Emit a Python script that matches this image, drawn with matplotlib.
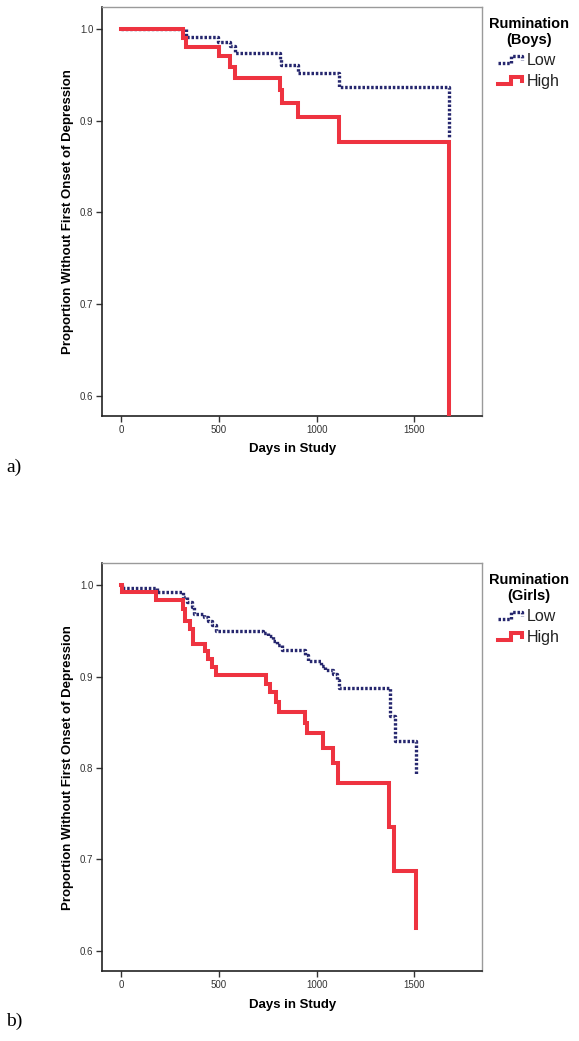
import matplotlib
matplotlib.use("Agg")
import matplotlib.pyplot as plt
from matplotlib.legend_handler import HandlerBase
from matplotlib.lines import Line2D

plt.rcParams['font.family'] = ['Liberation Sans', 'DejaVu Sans']

# Boys (panel a)
boys_low_days = [0, 331, 497, 558, 583, 813, 820, 906, 1116, 1678]
boys_low_surv = [1.0, 0.991, 0.986, 0.981, 0.974, 0.967, 0.961, 0.952, 0.937, 0.882]
boys_high_days = [0, 316, 332, 501, 558, 583, 813, 823, 906, 1116, 1678]
boys_high_surv = [1.0, 0.990, 0.980, 0.970, 0.958, 0.947, 0.933, 0.919, 0.904, 0.877, 0.0]

# Girls (panel b)
girls_low_days = [0, 3, 182, 315, 336, 361, 373, 424, 446, 467, 486, 727, 753, 779,
                  796, 822, 941, 958, 1021, 1043, 1085, 1103, 1116, 1375, 1401, 1510]
girls_low_surv = [1.0, 0.997, 0.992, 0.9865, 0.981, 0.976, 0.968, 0.965, 0.961, 0.956,
                  0.950, 0.948, 0.944, 0.939, 0.934, 0.929, 0.923, 0.9175, 0.911, 0.907,
                  0.903, 0.896, 0.887, 0.857, 0.830, 0.792]
girls_high_days = [0, 3, 179, 315, 327, 353, 366, 429, 446, 463, 486, 740, 762, 792,
                   809, 941, 949, 1031, 1085, 1111, 1368, 1397, 1509]
girls_high_surv = [1.0, 0.992, 0.984, 0.974, 0.961, 0.952, 0.936, 0.928, 0.919, 0.910,
                   0.902, 0.892, 0.883, 0.872, 0.861, 0.849, 0.838, 0.822, 0.805, 0.784,
                   0.735, 0.687, 0.625]

group_labels = ["Low", "High"]
x_ticks = [0, 500, 1000, 1500]
y_ticks = [0.6, 0.7, 0.8, 0.9, 1.0]

LOW_COLOR = "#26276e"
HIGH_COLOR = "#ee3340"
LOW_STYLE = dict(color=LOW_COLOR, lw=2.4, linestyle=(0, (0.75, 0.55)), dash_capstyle="butt")
HIGH_STYLE = dict(color=HIGH_COLOR, lw=2.9, solid_joinstyle="miter")


class StepHandler(HandlerBase):
    # little step icon like the SPSS legend
    def create_artists(self, legend, orig_handle, xdescent, ydescent, width, height, fontsize, trans):
        x0, y0 = -xdescent, -ydescent
        xs = [x0, x0 + 0.5 * width, x0 + 0.5 * width, x0 + 0.92 * width, x0 + 0.92 * width]
        ys = [y0 + 0.2 * height, y0 + 0.2 * height, y0 + 0.8 * height, y0 + 0.8 * height, y0 + 0.45 * height]
        line = Line2D(xs, ys)
        line.update_from(orig_handle)
        line.set_clip_on(False)
        line.set_clip_box(None)
        line.set_clip_path(None)
        line.set_transform(trans)
        return [line]


def draw_panel(ax, low_days, low_surv, high_days, high_surv, sex, leg_y):
    low, = ax.step(low_days, low_surv, where="post", zorder=2, **LOW_STYLE)
    high, = ax.step(high_days, high_surv, where="post", zorder=3, **HIGH_STYLE)

    ax.set_xlim(-96, 1847)
    ax.set_ylim(0.578, 1.0237)
    ax.set_xticks(x_ticks)
    ax.set_yticks(y_ticks)
    ax.set_yticklabels(["%.1f" % v for v in y_ticks])
    ax.tick_params(labelsize=7, labelcolor="#333333", length=4.5, width=1, color="#333333", pad=2)

    for side in ["left", "bottom"]:
        ax.spines[side].set_color("#222222")
        ax.spines[side].set_linewidth(1.2)
    for side in ["top", "right"]:
        ax.spines[side].set_color("#9a9a9a")
        ax.spines[side].set_linewidth(1.0)

    ax.set_xlabel("Days in Study", fontsize=9.5, fontweight="bold")
    ax.set_ylabel("Proportion Without First Onset of Depression", fontsize=9.5, fontweight="bold")
    ax.xaxis.set_label_coords(0.5, -0.068)
    ax.yaxis.set_label_coords(-0.075, 0.5)

    leg = fig.legend([low, high], group_labels, loc="upper left",
                     bbox_to_anchor=(489 / 579, leg_y), frameon=False,
                     handler_map={Line2D: StepHandler()},
                     title="Rumination\n(%s)" % sex,
                     title_fontproperties={"size": 10.5, "weight": "bold"},
                     fontsize=11.5, handlelength=1.6, handletextpad=0.2,
                     labelspacing=0.38, borderpad=0, borderaxespad=0)
    leg.get_title().set_multialignment("center")
    for t in leg.get_texts():
        t.set_color("#222222")
    return leg


fig = plt.figure(figsize=(5.79, 10.41), dpi=100)
ax1 = fig.add_axes([0.1767, 0.6007, 0.6563, 0.3923])
ax2 = fig.add_axes([0.1767, 0.0672, 0.6563, 0.3916])

draw_panel(ax1, boys_low_days, boys_low_surv, boys_high_days, boys_high_surv, "Boys", 1 - 17 / 1041)
draw_panel(ax2, girls_low_days, girls_low_surv, girls_high_days, girls_high_surv, "Girls", 1 - 573 / 1041)

fig.text(6 / 579, 1 - 467 / 1041, "a)", family="Liberation Serif", fontsize=14, va="center")
fig.text(6 / 579, 1 - 1021 / 1041, "b)", family="Liberation Serif", fontsize=14, va="center")

fig.savefig("out.png", dpi=100)
